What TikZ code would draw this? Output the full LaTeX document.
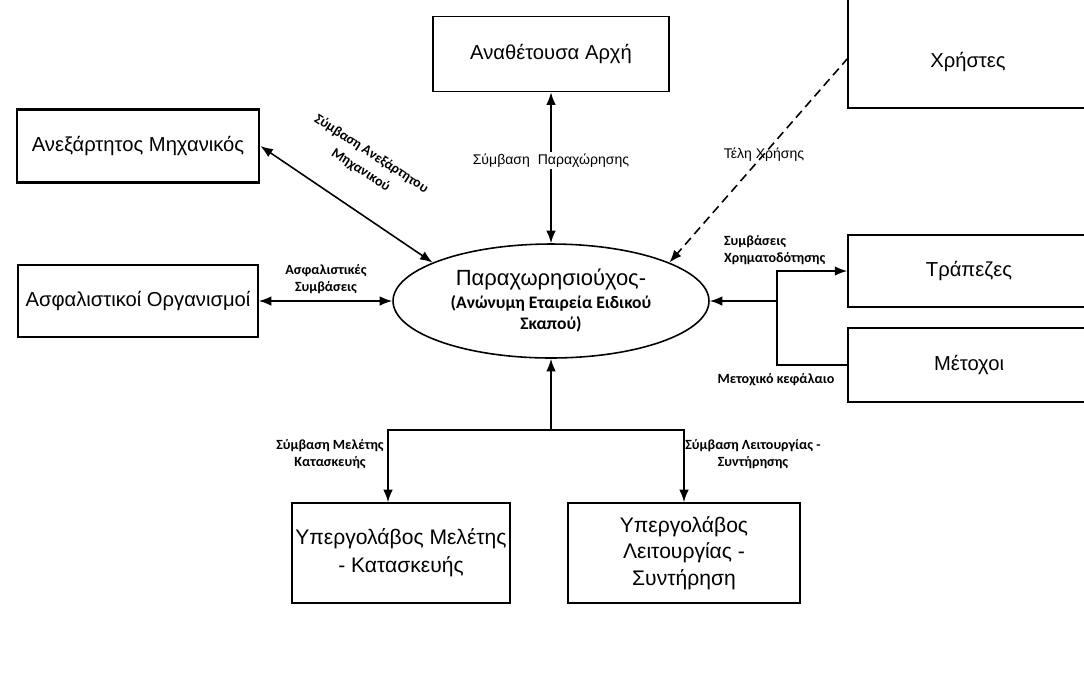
\documentclass[tikz,border=0pt]{standalone}
\usepackage{fontspec}
\setmainfont{Liberation Sans}
\newfontfamily\lblfont{Carlito}
\usetikzlibrary{shapes.geometric,arrows.meta}
\begin{document}
\begin{tikzpicture}[x=0.02cm,y=-0.02cm,
  box/.style={draw, line width=0.9pt, minimum width=#1, inner sep=2pt, align=center, font=\fontsize{11.5}{14}\selectfont},
  box/.default=4.8cm,
  lbl/.style={font=\lblfont\bfseries\fontsize{8}{9.5}\selectfont, align=center, inner sep=1pt},
  thin lbl/.style={font=\fontsize{8}{9.5}\selectfont, inner sep=1pt},
  conn/.style={line width=0.9pt, -{Latex[length=2.5mm,width=1.9mm]}},
  both/.style={line width=0.9pt, {Latex[length=2.5mm,width=1.9mm]}-{Latex[length=2.5mm,width=1.9mm]}}]
\useasboundingbox (0,0) rectangle (1084,681);
\clip (0,0) rectangle (1084,681);

\node[draw, ellipse, line width=0.9pt, minimum width=6.32cm, minimum height=2.28cm, inner sep=0pt, align=center] (ell) at (551,301)
  {{\fontsize{12.5}{15}\selectfont Παραχωρησιούχος-}\\[1pt]
   {\lblfont\bfseries\fontsize{10}{12}\selectfont (Ανώνυμη Εταιρεία Ειδικού}\\
   {\lblfont\bfseries\fontsize{10}{12}\selectfont Σκαπού)}};

\node[box=4.72cm, minimum height=1.5cm] (anath) at (551,54) {Αναθέτουσα Αρχή};
\node[box=4.84cm, minimum height=1.46cm, line width=1.6pt] (ane) at (138,146) {Ανεξάρτητος Μηχανικός};
\node[box=4.8cm, minimum height=1.44cm] (asf) at (138,301) {Ασφαλιστικοί Οργανισμοί};
\node[box=4.84cm, minimum height=2.44cm, line width=1.3pt] (xr) at (969,47) {};
\node[font=\fontsize{11.5}{14}\selectfont] at (968,62) {Χρήστες};
\node[box=4.84cm, minimum height=1.44cm] (trap) at (969,271) {Τράπεζες};
\node[box=4.84cm, minimum height=1.48cm] (met) at (969,365) {Μέτοχοι};
\node[box=4.26cm, minimum height=2cm, font=\fontsize{12}{16}\selectfont] (ypm) at (401,553) {Υπεργολάβος Μελέτης\\- Κατασκευής};
\node[box=4.64cm, minimum height=2cm, font=\fontsize{12}{15}\selectfont] (ypl) at (684,553) {Υπεργολάβος\\Λειτουργίας -\\Συντήρηση};

\coordinate (xrin) at (848,58);
\coordinate (fork) at (777,301);
\coordinate (split) at (551,430);

\draw[both] (anath.south) -- node[thin lbl, fill=white, pos=0.45] {Σύμβαση\ \ Παραχώρησης} (ell.north);
\draw[both] (ane.east) -- (ell.162);
\draw[both] (asf.east) -- (ell.west);
\draw[conn, dashed, dash pattern=on 5pt off 3pt] (xrin) -- (ell.18);
\draw[conn] (fork) -- (ell.east);
\draw[conn] (fork) |- (trap.west);
\draw[line width=0.9pt] (fork) |- (met.west);
\draw[conn] (split) -- (ell.south);
\draw[conn] (split) -| ([xshift=-0.26cm]ypm.north);
\draw[conn] (split) -| (ypl.north);

\node[lbl, rotate=-33, font=\lblfont\bfseries\fontsize{8}{11}\selectfont] at (366,162) {Σύμβαση Ανεξάρτητου\\Μηχανικού};
\node[thin lbl] at (764,155) {Τέλη Χρήσης};
\node[lbl] at (326,279) {Ασφαλιστικές\\Συμβάσεις};
\node[lbl, anchor=west, align=left] at (722,250) {Συμβάσεις\\Χρηματοδότησης};
\node[lbl] at (776,380) {Μετοχικό κεφάλαιο};
\node[lbl] at (330,454) {Σύμβαση Μελέτης\\Κατασκευής};
\node[lbl] at (753,454) {Σύμβαση Λειτουργίας -\\Συντήρησης};
\end{tikzpicture}
\end{document}
